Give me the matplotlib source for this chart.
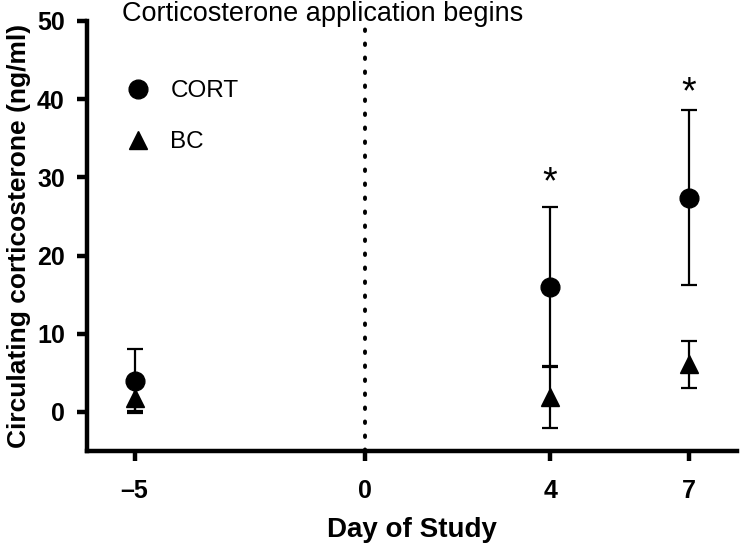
import matplotlib
matplotlib.use("Agg")
import matplotlib.pyplot as plt
from matplotlib.lines import Line2D

plt.rcParams['font.family'] = ['Liberation Sans', 'DejaVu Sans']

days = [-5, 4, 7]
cort_mean = [4.0, 16.0, 27.4]
cort_sd = [4.1, 10.2, 11.2]
bc_mean = [1.8, 1.9, 6.1]
bc_sd = [1.7, 4.0, 3.0]
sig_days = [4, 7]
sig_y = [29.2, 40.8]
xticks = [-5, 0, 4, 7]
xticklabels = ["\u20135", "0", "4", "7"]
yticks = [0, 10, 20, 30, 40, 50]

fig = plt.figure(figsize=(7.4, 5.51), dpi=100)
ax = fig.add_axes([0.1176, 0.1815, 0.8784, 0.7805])

ax.axvline(0, ymin=0, ymax=(49.0 + 5) / 55, color='black', linestyle=(0, (0.4, 3.2)),
           linewidth=2.8, dash_capstyle='round', zorder=1)

ax.errorbar(days, cort_mean, yerr=cort_sd, fmt='o', color='black', ms=13.5,
            elinewidth=1.6, capsize=6, capthick=1.6, zorder=3)
ax.errorbar(days, bc_mean, yerr=bc_sd, fmt='^', color='black', ms=13,
            elinewidth=1.6, capsize=6, capthick=1.6, zorder=3)

for d, y in zip(sig_days, sig_y):
    ax.text(d, y, "*", ha='center', va='center', fontsize=27)

ax.text(-5.27, 50.9, "Corticosterone application begins", ha='left', va='center',
        fontsize=19.5, clip_on=False)

handles = [Line2D([], [], marker='o', color='black', linestyle='none', ms=13.5),
           Line2D([], [], marker='^', color='black', linestyle='none', ms=13)]
leg = ax.legend(handles, ["CORT", "BC"], loc='upper left', bbox_to_anchor=(0.033, 0.885),
                frameon=False, fontsize=17.5, handletextpad=0.55, labelspacing=1.2,
                borderaxespad=0, handlelength=1.6)

ax.set_xlim(-6.03, 8.05)
ax.set_ylim(-5, 50)
ax.set_xticks(xticks)
ax.set_xticklabels(xticklabels)
ax.set_yticks(yticks)
for s in ['top', 'right']:
    ax.spines[s].set_visible(False)
for s in ['left', 'bottom']:
    ax.spines[s].set_linewidth(3.2)
ax.tick_params(axis='both', width=3.2, length=7, labelsize=18, pad=9)
for lab in ax.get_xticklabels() + ax.get_yticklabels():
    lab.set_fontweight('bold')
ax.tick_params(axis='x', pad=13)

ax.set_xlabel("Day of Study", fontsize=20, fontweight='bold', labelpad=10)
ax.set_ylabel("Circulating corticosterone (ng/ml)", fontsize=19, fontweight='bold', labelpad=4)

fig.savefig("out.png", dpi=100)
